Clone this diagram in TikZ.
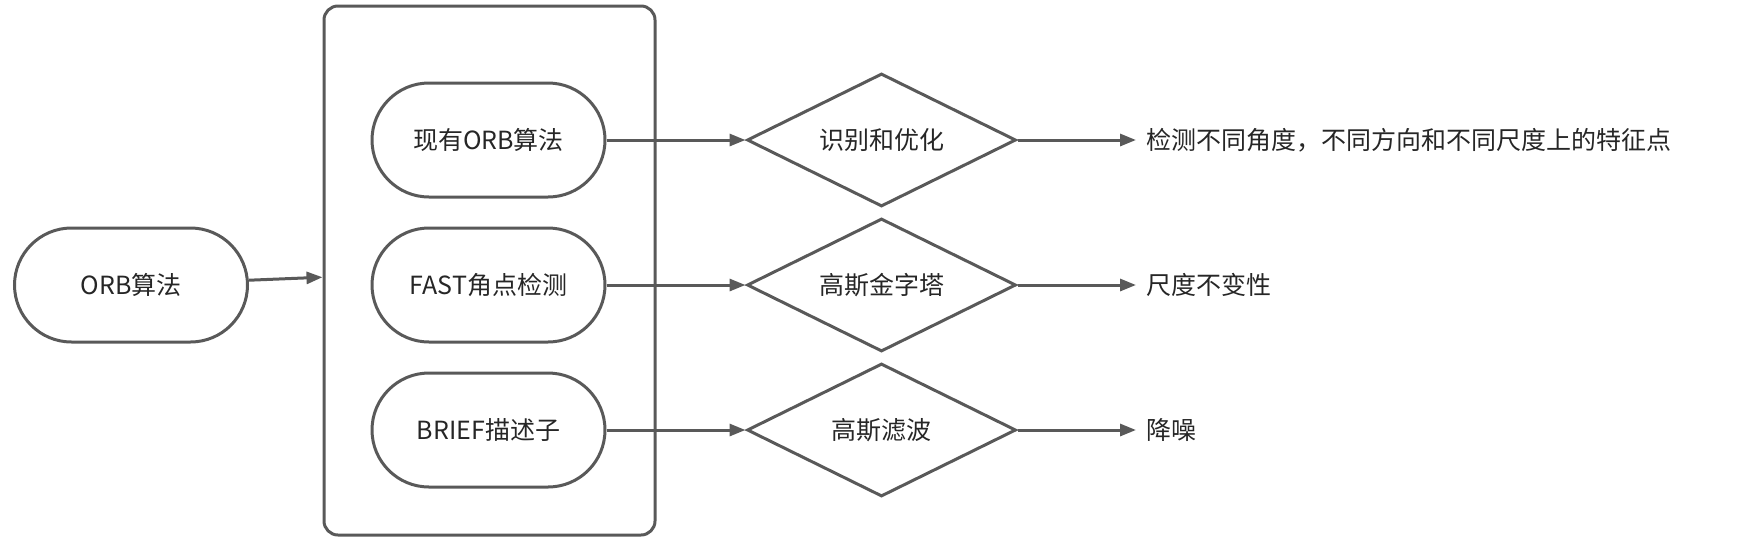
\documentclass[tikz,border=0pt]{standalone}
\usepackage{fontspec}
\setmainfont{Noto Sans CJK SC}
\usetikzlibrary{shapes.geometric,arrows.meta,positioning}
\definecolor{mygray}{RGB}{89,89,89}
\tikzset{
  stadium/.style={draw=mygray,line width=3pt,rounded corners=57pt,minimum width=233pt,minimum height=114pt,inner sep=0pt,text=black!85},
  decision/.style={draw=mygray,line width=3pt,diamond,aspect=2.02,minimum width=269pt,minimum height=133pt,inner sep=0pt,text=black!85},
  result/.style={anchor=west,inner sep=0pt,text=black!85},
  flow/.style={draw=mygray,line width=3pt,-{Triangle[length=16pt,width=12pt]}}
}
\begin{document}
\begin{tikzpicture}[x=1pt,y=-1pt,font=\fontsize{25}{30}\selectfont]
\useasboundingbox (0,0) rectangle (1744,539);
\node [stadium] (orb) at (131,285) {ORB算法};
\node [draw=mygray,line width=3pt,rounded corners=14pt,minimum width=331pt,minimum height=529pt] (box) at (489.5,270.5) {};
\node [stadium] (cur) at (488.5,140) {现有ORB算法};
\node [stadium] (fast) at (488.5,285) {FAST角点检测};
\node [stadium] (brief) at (488.5,430) {BRIEF描述子};
\node [decision] (d1) at (881.5,140) {识别和优化};
\node [decision] (d2) at (881.5,285) {高斯金字塔};
\node [decision] (d3) at (881.5,430) {高斯滤波};
\node [result] (r1) at (1146,140) {检测不同角度，不同方向和不同尺度上的特征点};
\node [result] (r2) at (1146,285) {尺度不变性};
\node [result] (r3) at (1146,430) {降噪};
% connectors
\draw [flow] (orb) -- (box);
\draw [flow] (cur) -- (d1);
\draw [flow] (fast) -- (d2);
\draw [flow] (brief) -- (d3);
\draw [flow] (d1) -- ([xshift=-10pt]r1.west);
\draw [flow] (d2) -- ([xshift=-10pt]r2.west);
\draw [flow] (d3) -- ([xshift=-10pt]r3.west);
\end{tikzpicture}
\end{document}
